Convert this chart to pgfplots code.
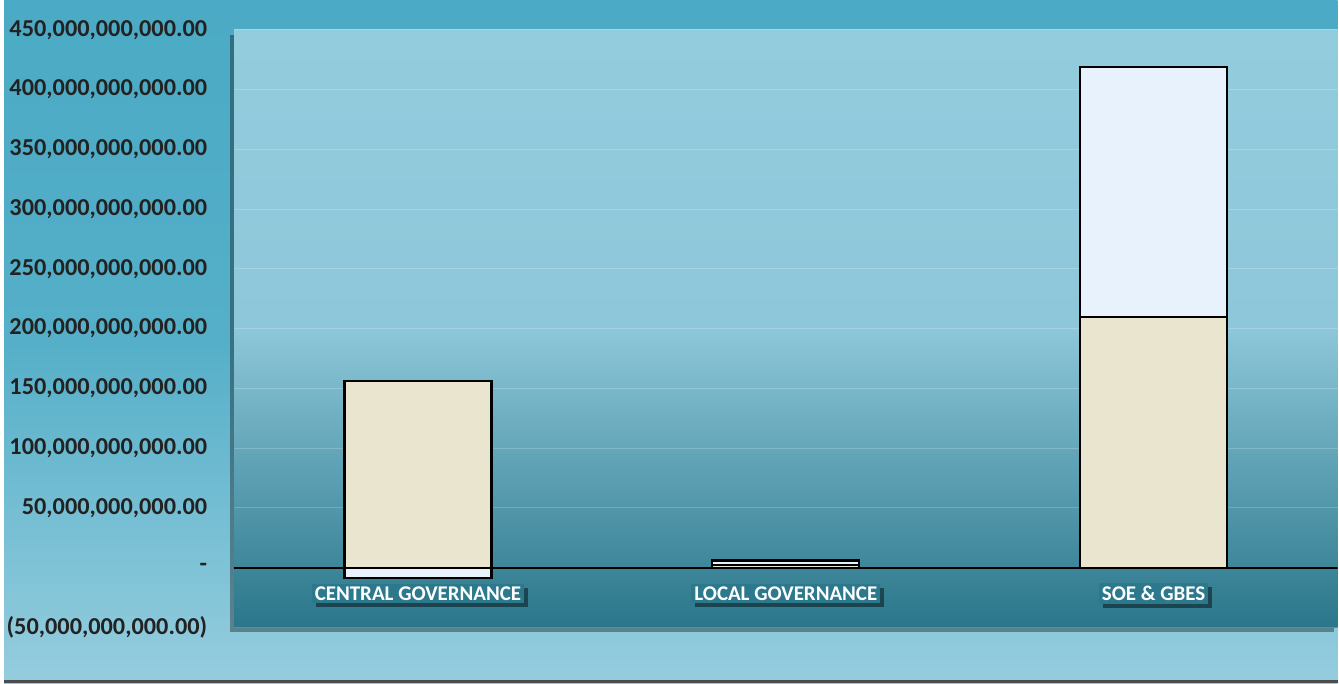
\documentclass[border=0pt]{standalone}
\usepackage{pgfplots}
\pgfplotsset{compat=1.18}
\usepackage{fontspec}
\setmainfont{Carlito}
\usetikzlibrary{shadows}
\definecolor{outertop}{HTML}{4BAAC5}
\definecolor{outermid}{HTML}{55AFC8}
\definecolor{outerbot}{HTML}{95CDDE}
\definecolor{plottop}{HTML}{93CCDD}
\definecolor{plotmid}{HTML}{8DC7D9}
\definecolor{plotbot}{HTML}{2A768A}
\definecolor{beige}{HTML}{EAE5CF}
\definecolor{paleblue}{HTML}{E8F2FC}
\definecolor{labelbg}{HTML}{2C798D}
\definecolor{ticktext}{HTML}{222222}
\begin{document}
\begin{tikzpicture}
% outer background
\shade[top color=outertop, bottom color=outerbot, middle color=outermid] (0pt,0pt) rectangle (669.5pt,343pt);
\draw[gray!60!black, line width=1.5pt] (0pt,0.75pt) -- (669.5pt,0.75pt);
\begin{axis}[
    at={(115.5pt,28pt)}, anchor=south west,
    scale only axis,
    width=554pt, height=300pt,
    xmin=-0.5, xmax=2.5,
    ymin=-5e10, ymax=4.5e11,
    scaled y ticks=false,
    axis line style={draw=none},
    major tick length=0pt,
    ybar, bar width=0.4, bar shift=0pt,
    xtick={0,1,2},
    xticklabels={CENTRAL GOVERNANCE, LOCAL GOVERNANCE, SOE \& GBES},
    xticklabel style={anchor=center, yshift=17pt, text=white, fill=labelbg,
        inner sep=1.5pt, font=\fontsize{10.5}{12}\selectfont\bfseries,
        drop shadow={shadow xshift=2pt, shadow yshift=-2pt, opacity=0.45, fill=black}},
    ytick={-5e10,0,5e10,1e11,1.5e11,2e11,2.5e11,3e11,3.5e11,4e11,4.5e11},
    yticklabels={{(50,000,000,000.00)},{-\hspace{5.5pt}},{50,000,000,000.00},{100,000,000,000.00},
        {150,000,000,000.00},{200,000,000,000.00},{250,000,000,000.00},{300,000,000,000.00},
        {350,000,000,000.00},{400,000,000,000.00},{450,000,000,000.00}},
    yticklabel style={text=ticktext, font=\fontsize{12.2}{14}\selectfont\bfseries, xshift=-10pt},
    ymajorgrids,
    major grid style={white, opacity=0.2, line width=0.6pt},
    axis background/.style={shade, top color=plottop, bottom color=plotbot, middle color=plotmid,
        drop shadow={shadow xshift=-2pt, shadow yshift=-2.5pt, opacity=0.35, fill=black}},
]
\draw[black, line width=1pt] (axis cs:-0.5,0) -- (axis cs:2.5,0);
% totals (pale blue segment reaches the top of the stack)
\addplot[draw=black, line width=1.1pt, fill=paleblue] coordinates {(0,-8.5e9) (1,6e9) (2,4.19e11)};
% lower segment
\addplot[draw=black, line width=1.1pt, fill=beige] coordinates {(0,1.565e11) (1,2.5e9) (2,2.095e11)};
\end{axis}
\end{tikzpicture}
\end{document}
